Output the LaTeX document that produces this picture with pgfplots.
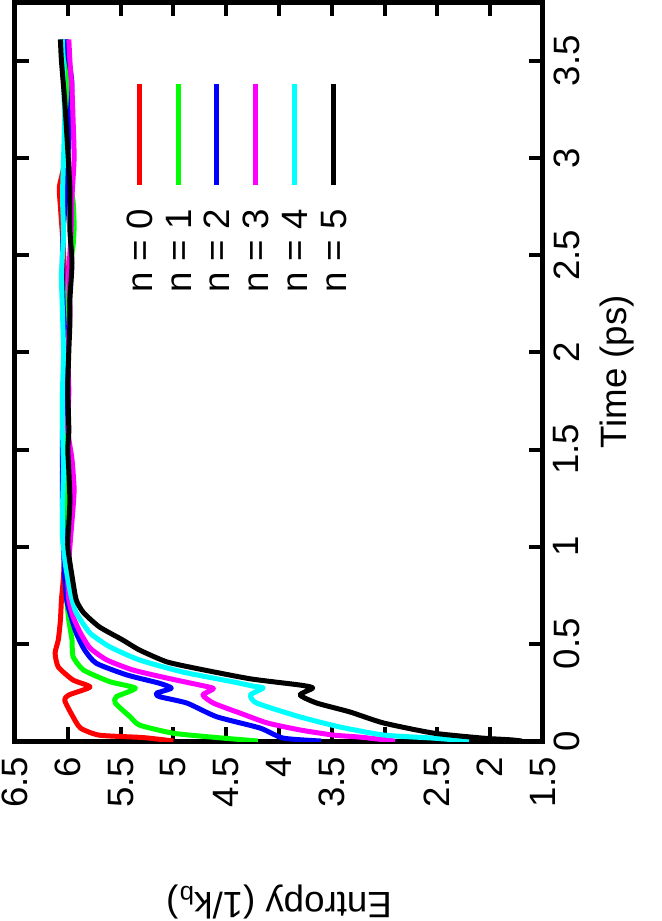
\documentclass[border=0pt]{standalone}
\usepackage{pgfplots}
\pgfplotsset{compat=1.18}
\usepackage{fontspec}
\setmainfont{Liberation Sans}
\definecolor{gpred}{RGB}{255,0,0}
\definecolor{gpgreen}{RGB}{0,255,0}
\definecolor{gpblue}{RGB}{0,0,255}
\definecolor{gpmag}{RGB}{255,0,255}
\definecolor{gpcyan}{RGB}{0,255,255}
\begin{document}
\begin{tikzpicture}
\begin{axis}[scale only axis,width=158.4pt,height=221.6pt,
  x dir=reverse,xmin=1.5,xmax=6.5,ymin=0,ymax=3.8,
  xtick={1.5,2,...,6.5},ytick={0,0.5,...,3.5},
  axis line style={line width=1.5pt},tick style={line width=1.2pt,black},
  major tick length=4.2pt,tick align=inside,xtick pos=both,ytick pos=both,
  xticklabel pos=lower,yticklabel pos=right,
  /pgf/number format/assume math mode=true,
  tick label style={font=\fontsize{11}{13}\selectfont},
  xticklabel style={rotate=90,anchor=east,inner sep=4.5pt},
  yticklabel style={rotate=90,anchor=north,inner sep=3pt},
  xlabel={Entropy (1/k\textsubscript{b})},ylabel={Time (ps)},
  label style={font=\fontsize{11}{13}\selectfont},
  xlabel style={at={(axis description cs:0.5,-0.218)},anchor=center,rotate=180},
  ylabel style={at={(axis description cs:1.14,0.5)},anchor=center},
  every axis plot/.append style={line width=1.5pt,line join=round,smooth,tension=0.35}]
\addplot[gpred] coordinates {(5.0,0)(5.29,0.018)(5.70,0.03)(5.88,0.067)(5.96,0.134)(6.03,0.21)(5.99,0.237)(5.79,0.278)(5.95,0.314)(6.09,0.381)(6.12,0.453)(6.09,0.52)(6.07,0.62)(6.06,0.726)(6.04,0.85)(6.03,1.0)(6.05,1.2)(6.03,1.4)(6.04,1.6)(6.02,1.8)(6.03,2.0)(6.04,2.2)(6.03,2.4)(6.05,2.6)(6.07,2.75)(6.08,2.85)(6.04,2.95)(6.02,3.1)(6.03,3.3)(6.02,3.45)(6.03,3.61)};
\addplot[gpgreen] coordinates {(4.2,0)(4.59,0.018)(5.0,0.04)(5.32,0.082)(5.41,0.125)(5.55,0.195)(5.54,0.228)(5.36,0.272)(5.60,0.305)(5.85,0.365)(5.95,0.434)(5.96,0.52)(5.99,0.62)(6.01,0.726)(6.02,0.85)(6.03,1.0)(6.02,1.2)(6.01,1.4)(6.02,1.6)(6.01,1.8)(6.0,2.0)(6.01,2.2)(5.99,2.4)(5.95,2.55)(5.94,2.65)(5.95,2.78)(5.99,2.9)(6.0,3.1)(5.99,3.3)(6.0,3.45)(6.01,3.61)};
\addplot[gpblue] coordinates {(3.6,0)(3.96,0.015)(4.18,0.067)(4.59,0.125)(4.87,0.195)(5.13,0.228)(5.16,0.246)(5.02,0.272)(5.13,0.297)(5.44,0.34)(5.73,0.40)(5.84,0.468)(5.92,0.556)(5.98,0.66)(6.01,0.726)(6.03,0.85)(6.04,1.0)(6.05,1.2)(6.05,1.4)(6.05,1.6)(6.03,1.8)(6.02,2.0)(6.04,2.2)(6.05,2.35)(6.05,2.5)(6.04,2.65)(6.02,2.8)(6.0,3.0)(5.98,3.2)(5.96,3.38)(5.99,3.5)(6.02,3.61)};
\addplot[gpmag] coordinates {(2.9,0)(3.23,0.02)(3.49,0.031)(3.80,0.057)(4.11,0.093)(4.37,0.144)(4.62,0.195)(4.72,0.237)(4.62,0.270)(4.75,0.288)(5.06,0.324)(5.38,0.365)(5.63,0.417)(5.79,0.479)(5.88,0.556)(5.95,0.64)(5.99,0.726)(6.0,0.85)(5.98,1.0)(5.95,1.2)(5.94,1.3)(5.96,1.45)(6.0,1.6)(5.99,1.8)(6.0,2.0)(5.98,2.2)(5.99,2.4)(5.97,2.6)(5.96,2.8)(5.94,3.0)(5.95,3.2)(5.96,3.35)(5.98,3.5)(5.99,3.61)};
\addplot[gpcyan] coordinates {(2.2,0)(2.54,0.015)(3.01,0.031)(3.42,0.072)(3.80,0.124)(4.21,0.195)(4.27,0.237)(4.15,0.273)(4.25,0.283)(4.43,0.304)(4.91,0.355)(5.32,0.417)(5.60,0.484)(5.79,0.556)(5.92,0.66)(5.97,0.75)(6.02,0.9)(6.05,1.05)(6.05,1.2)(6.04,1.4)(6.05,1.6)(6.05,1.8)(6.04,2.0)(6.05,2.2)(6.06,2.4)(6.04,2.6)(6.05,2.8)(6.04,3.0)(6.03,3.2)(6.04,3.4)(6.05,3.61)};
\addplot[black] coordinates {(1.7,0)(1.80,0.006)(2.07,0.015)(2.54,0.041)(3.01,0.093)(3.33,0.15)(3.64,0.195)(3.80,0.237)(3.68,0.273)(3.80,0.288)(4.27,0.32)(4.75,0.37)(5.06,0.407)(5.32,0.468)(5.48,0.52)(5.70,0.587)(5.85,0.66)(5.92,0.726)(5.96,0.85)(6.0,1.0)(5.99,1.12)(5.98,1.24)(5.99,1.39)(6.0,1.5)(5.99,1.6)(6.0,1.81)(5.99,2.01)(5.98,2.15)(5.98,2.27)(5.96,2.46)(5.98,2.63)(5.98,2.84)(6.0,3.04)(6.03,3.3)(6.06,3.5)(6.07,3.61)};
% legend, drawn turned like the rest of the chart
\foreach \s/\c/\n in {5.316/gpred/0,4.947/gpgreen/1,4.587/gpblue/2,4.218/gpmag/3,3.848/gpcyan/4,3.479/black/5}{
  \edef\tmp{\noexpand\draw[\c,line width=1.5pt] (axis cs:\s,3.381) -- (axis cs:\s,2.862);
    \noexpand\node[rotate=90,anchor=east,inner sep=0pt,font=\noexpand\fontsize{11}{13}\noexpand\selectfont] at (axis cs:\s,2.738) {n = \n};}
  \tmp}
\coordinate (SW) at (axis cs:6.5,0);
\coordinate (NE) at (axis cs:1.5,3.8);
\end{axis}
\pgfresetboundingbox
\path[use as bounding box] ([shift={(-4.5pt,-54pt)}]SW) rectangle ([shift={(35.7pt,0.75pt)}]NE);
\end{tikzpicture}
\end{document}
